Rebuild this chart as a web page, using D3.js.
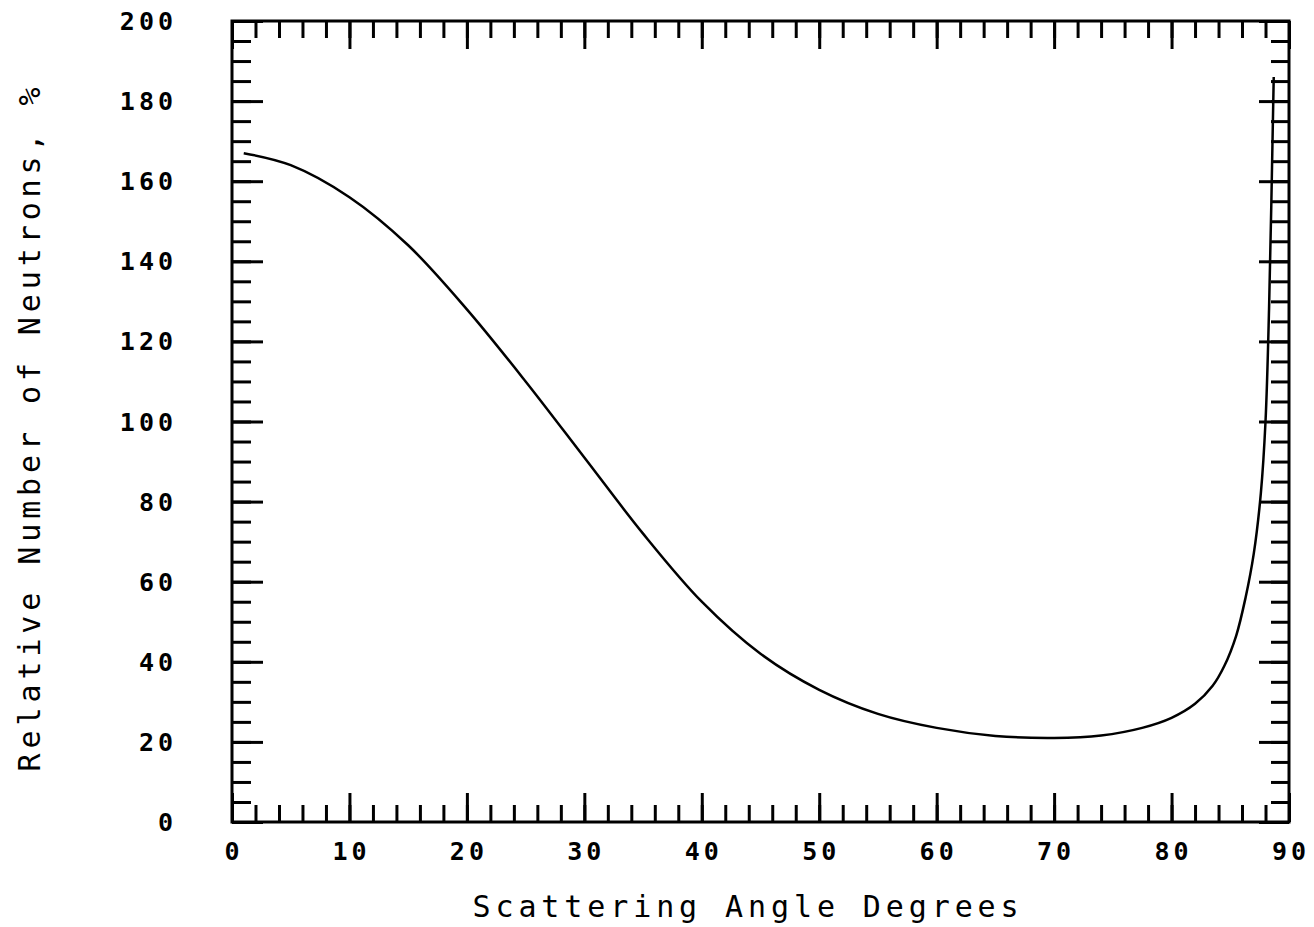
<!DOCTYPE html>
<html>
<head>
<meta charset="utf-8">
<script src="https://cdn.jsdelivr.net/npm/d3@7"></script>
<style>
  body { margin: 0; background: #fff; }
  svg { display: block; }
  .tick-label { font-family: "DejaVu Sans Mono", monospace; font-weight: bold; font-size: 25px; letter-spacing: 4px; fill: #000; }
  .axis-title { font-family: "DejaVu Sans Mono", monospace; font-size: 30px; letter-spacing: 4.9px; fill: #000; }
</style>
</head>
<body>
<div id="chart"></div>
<script>
// --- DATA ---
const angles = [1, 5, 10, 15, 20, 25, 30, 35, 40, 45, 50, 55, 60, 65, 70, 74, 77.5, 80, 82, 83.5, 84.5, 85.5, 86.3, 87, 87.6, 88, 88.3, 88.7];
const neutrons = [167, 164, 156, 144, 128, 110, 91, 72, 55, 42, 33, 27, 23.5, 21.5, 21, 21.6, 23.5, 26, 29.5, 34, 39, 46.5, 56, 67, 82, 100, 128, 186];
const xTicks = [0, 10, 20, 30, 40, 50, 60, 70, 80, 90];
const yTicks = [0, 20, 40, 60, 80, 100, 120, 140, 160, 180, 200];

// --- SETUP ---
const W = 1314, H = 927;
const margin = { top: 21, right: 25, bottom: 105, left: 232 };
const width = W - margin.left - margin.right;
const height = H - margin.top - margin.bottom;

const svg = d3.select("#chart").append("svg")
    .attr("width", W)
    .attr("height", H);

const g = svg.append("g")
    .attr("transform", `translate(${margin.left},${margin.top})`);

// --- SCALES ---
const x = d3.scaleLinear().domain([0, 90]).range([0, width]);
const y = d3.scaleLinear().domain([0, 200]).range([height, 0]);

const xMinor = d3.range(0, 91, 2);
const yMinor = d3.range(0, 201, 5);

// --- AXES (ticks drawn inward on all four sides) ---
function styleAxis(sel) {
    sel.select(".domain").remove();
    sel.selectAll("line").attr("stroke", "#000").attr("stroke-width", 3);
    sel.selectAll("text").remove();
}

g.append("g").attr("transform", `translate(0,${height})`)
    .call(d3.axisBottom(x).tickValues(xMinor).tickSize(-17)).call(styleAxis);
g.append("g").attr("transform", `translate(0,${height})`)
    .call(d3.axisBottom(x).tickValues(xTicks).tickSize(-29)).call(styleAxis);
g.append("g")
    .call(d3.axisTop(x).tickValues(xMinor).tickSize(-17)).call(styleAxis);
g.append("g")
    .call(d3.axisTop(x).tickValues(xTicks).tickSize(-28)).call(styleAxis);

g.append("g")
    .call(d3.axisLeft(y).tickValues(yMinor).tickSize(-19)).call(styleAxis);
g.append("g")
    .call(d3.axisLeft(y).tickValues(yTicks).tickSize(-31)).call(styleAxis);
g.append("g").attr("transform", `translate(${width},0)`)
    .call(d3.axisRight(y).tickValues(yMinor).tickSize(-18)).call(styleAxis);
g.append("g").attr("transform", `translate(${width},0)`)
    .call(d3.axisRight(y).tickValues(yTicks).tickSize(-30)).call(styleAxis);

// frame
g.append("rect")
    .attr("x", 0).attr("y", 0)
    .attr("width", width).attr("height", height)
    .attr("fill", "none")
    .attr("stroke", "#000")
    .attr("stroke-width", 3);

// tick labels
g.selectAll(".xlab")
    .data(xTicks)
    .enter().append("text")
    .attr("class", "tick-label")
    .attr("x", d => x(d) + 2)
    .attr("y", height + 38)
    .attr("text-anchor", "middle")
    .text(d => d);

g.selectAll(".ylab")
    .data(yTicks)
    .enter().append("text")
    .attr("class", "tick-label")
    .attr("x", -55)
    .attr("y", d => y(d))
    .attr("dy", "0.36em")
    .attr("text-anchor", "end")
    .text(d => d);

// --- CURVE ---
const line = d3.line()
    .x((d, i) => x(angles[i]))
    .y(d => y(d))
    .curve(d3.curveCatmullRom.alpha(0.5));

g.append("path")
    .datum(neutrons)
    .attr("d", line)
    .attr("fill", "none")
    .attr("stroke", "#000")
    .attr("stroke-width", 2.5);

// --- AXIS TITLES ---
svg.append("text")
    .attr("class", "axis-title")
    .attr("x", 748)
    .attr("y", 917)
    .attr("text-anchor", "middle")
    .text("Scattering Angle Degrees");

svg.append("text")
    .attr("class", "axis-title")
    .attr("transform", "translate(40,427) rotate(-90)")
    .attr("text-anchor", "middle")
    .text("Relative Number of Neutrons, %");
</script>
</body>
</html>
